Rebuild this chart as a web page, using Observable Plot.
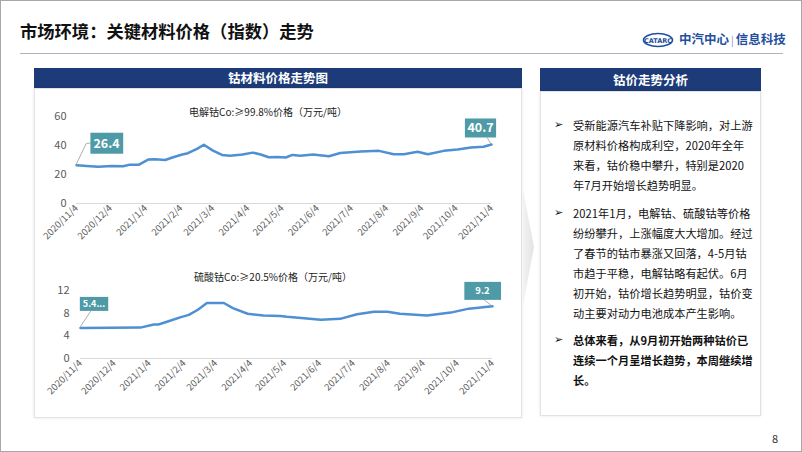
<!DOCTYPE html>
<html>
<head>
<meta charset="utf-8">
<script src="https://cdn.jsdelivr.net/npm/d3@7"></script>
<script src="https://cdn.jsdelivr.net/npm/@observablehq/plot@0.6"></script>
<style>
  body { margin: 0; background: #fff; }
  #slide { position: relative; width: 802px; height: 452px; overflow: hidden;
    font-family: "Noto Sans CJK SC", "Noto Sans", sans-serif; color: #000; background: #fff; }
  .abs { position: absolute; }
  #frame { left: 0; top: 0; width: 802px; height: 452px; box-sizing: border-box; border: 1px solid #a8a8a8; }
  #title { left: 20px; top: 20px; font-size: 17.3px; font-weight: bold; line-height: 22px; white-space: nowrap; color: #111; }
  #rule { left: 20px; top: 53px; width: 763px; height: 1px; background: #aeb3c0; }
  .hdr { background: #1c3b78; color: #fff; font-weight: bold; font-size: 12.5px; text-align: center; }
  .panel { box-sizing: border-box; border: 1px solid #e2e2e2; box-shadow: 0 0 3px rgba(0,0,0,0.10); background: #fff; }
  .ctitle { font-size: 10px; color: #222; white-space: nowrap; transform: translateX(-50%); line-height: 14px; }
  .line { left: 573px; font-size: 11.2px; line-height: 20px; white-space: nowrap; color: #111; letter-spacing: 0.05px; }
  .bul { left: 554px; font-size: 11px; line-height: 20px; font-family: "DejaVu Sans", sans-serif; color: #111; }
  .bold { font-weight: bold; }
  #logo { left: 642px; top: 32px; }
  #logotext { left: 679px; top: 31px; font-size: 12.5px; font-weight: bold; color: #1f4f9e; white-space: nowrap; line-height: 16px; }
  #page { left: 772px; top: 430px; font-size: 11px; color: #333; }
</style>
</head>
<body>
<div id="slide">
  <div id="title" class="abs">市场环境：关键材料价格（指数）走势</div>
  <svg id="logo" class="abs" width="32" height="16" viewBox="0 0 32 16">
    <ellipse cx="16" cy="8" rx="14.5" ry="6.5" fill="none" stroke="#1f4f9e" stroke-width="1.6"/>
    <text x="16" y="10.5" text-anchor="middle" font-size="6.5" font-weight="bold" fill="#1f4f9e" font-family="DejaVu Sans, sans-serif">CATARC</text>
  </svg>
  <div id="logotext" class="abs">中汽中心<span style="font-weight:normal;color:#7a8fb8;font-size:10px;margin:0 2px;">|</span>信息科技</div>
  <div id="rule" class="abs"></div>

  <div class="abs hdr" style="left:34px;top:68px;width:488px;height:20px;line-height:20px;">钴材料价格走势图</div>
  <div class="abs panel" style="left:34px;top:88px;width:488px;height:330px;"></div>

  <svg class="abs" style="left:518px;top:185px;" width="22" height="125">
    <defs><linearGradient id="chev" x1="0" x2="1"><stop offset="0" stop-color="#f3f3f3"/><stop offset="1" stop-color="#e2e2e2"/></linearGradient></defs>
    <polygon points="5,5 16,62 5,120" fill="url(#chev)"/>
  </svg>

  <div class="abs hdr" style="left:540px;top:68px;width:221px;height:23px;line-height:23px;">钴价走势分析</div>
  <div class="abs panel" style="left:540px;top:91px;width:221px;height:325px;"></div>

  <div id="chart1" class="abs" style="left:34px;top:92px;"></div>
  <div id="chart2" class="abs" style="left:34px;top:262px;"></div>
  <div class="abs ctitle" style="left:268px;top:105px;">电解钴Co:≥99.8%价格（万元/吨）</div>
  <div class="abs ctitle" style="left:273px;top:270px;">硫酸钴Co:≥20.5%价格（万元/吨）</div>

  <div id="text"></div>
  <div id="page" class="abs">8</div>
  <div id="frame" class="abs"></div>
</div>
<script>
// ---------- data ----------
const tickLabels = ["2020/11/4","2020/12/4","2021/1/4","2021/2/4","2021/3/4","2021/4/4","2021/5/4",
  "2021/6/4","2021/7/4","2021/8/4","2021/9/4","2021/10/4","2021/11/4"];

const cobaltDates = ["2020-11-04","2020-11-13","2020-11-23","2020-12-05","2020-12-15","2020-12-21","2020-12-29",
  "2021-01-06","2021-01-12","2021-01-21","2021-01-28","2021-02-05","2021-02-10","2021-02-18","2021-02-24",
  "2021-03-04","2021-03-12","2021-03-19","2021-03-30","2021-04-08","2021-04-15","2021-04-22","2021-04-30",
  "2021-05-07","2021-05-13","2021-05-20","2021-05-31","2021-06-14","2021-06-24","2021-07-12","2021-07-28",
  "2021-08-10","2021-08-19","2021-08-31","2021-09-09","2021-09-23","2021-10-05","2021-10-17","2021-10-28","2021-11-04"];
const cobaltValues = [26.4,25.9,25.4,25.9,25.7,26.8,26.8,
  30.3,30.5,30.0,31.9,33.8,34.7,37.7,40.5,
  36.5,33.5,33.0,33.8,35.1,33.8,31.9,32.1,
  31.7,33.5,33.0,33.8,32.6,34.8,35.9,36.3,
  34.0,34.0,35.7,34.0,36.3,37.3,38.6,39.1,40.7];
const cobaltTicks = [0,20,40,60];
const cobaltCallouts = ["26.4","40.7"];

const sulfateDates = ["2020-11-04","2020-12-27","2021-01-08","2021-01-12","2021-01-23","2021-02-01","2021-02-08",
  "2021-02-16","2021-02-24","2021-03-11","2021-03-19","2021-04-01","2021-04-15","2021-04-30","2021-05-06",
  "2021-06-05","2021-06-22","2021-07-07","2021-07-22","2021-08-03","2021-08-14","2021-09-07","2021-09-28",
  "2021-10-14","2021-11-04"];
const sulfateValues = [5.4,5.45,6.0,6.0,6.7,7.3,7.7,
  8.6,9.8,9.8,8.9,7.9,7.6,7.5,7.35,
  6.85,7.0,7.8,8.25,8.25,7.9,7.6,8.1,
  8.8,9.2];
const sulfateTicks = [0,4,8,12];
const sulfateCallouts = ["5.4...","9.2"];

const bullets = [
  {bold:false, lines:["受新能源汽车补贴下降影响，对上游","原材料价格构成利空，2020年全年","来看，钴价稳中攀升，特别是2020","年7月开始增长趋势明显。"]},
  {bold:false, lines:["2021年1月，电解钴、硫酸钴等价格","纷纷攀升，上涨幅度大大增加。经过","了春节的钴市暴涨又回落，4-5月钴","市趋于平稳，电解钴略有起伏。6月","初开始，钴价增长趋势明显，钴价变","动主要对动力电池成本产生影响。"]},
  {bold:true, lines:["总体来看，从9月初开始两种钴价已","连续一个月呈增长趋势，本周继续增","长。"]}
];

// ---------- text panel ----------
const paraTops = [115, 202.5, 329.5];
const textDiv = document.getElementById("text");
bullets.forEach((b, i) => {
  const bu = document.createElement("div");
  bu.className = "abs bul"; bu.style.top = paraTops[i] + "px"; bu.textContent = "➢";
  textDiv.appendChild(bu);
  b.lines.forEach((ln, j) => {
    const d = document.createElement("div");
    d.className = "abs line" + (b.bold ? " bold" : "");
    d.style.top = (paraTops[i] + j * 20) + "px";
    d.textContent = ln;
    textDiv.appendChild(d);
  });
});

// ---------- charts ----------
const FONT = '"Noto Sans CJK SC", "Noto Sans", sans-serif';
const LINE = "#4f8fd4";
const BOX = "#4e9aa6";
const parse = d3.utcParse("%Y-%m-%d");
const parseTick = d3.utcParse("%Y/%-m/%-d");
const tickDates = tickLabels.map(parseTick);
const fmt = d => { const i = tickDates.findIndex(t => +t === +d); return i >= 0 ? tickLabels[i] : ""; };

function makeChart(container, dates, values, yTicks, callouts, cfg) {
  const data = dates.map((d, i) => ({date: parse(d), value: values[i]}));
  const ends = [data[0], data[data.length - 1]];
  const marks = [
    Plot.ruleY([0], {stroke: "#d9d9d9", strokeWidth: 1}),
    Plot.axisY({ticks: yTicks, tickSize: 0, tickPadding: cfg.yPad, fontSize: 11, fill: "#595959", label: null}),
    Plot.axisX({ticks: tickDates, tickFormat: fmt, tickRotate: -45, tickSize: 0, tickPadding: 3,
      fontSize: 9.5, fill: "#595959", label: null}),
    Plot.line(data, {x: "date", y: "value", stroke: LINE, strokeWidth: 2.5, strokeLinejoin: "round"})
  ];
  cfg.boxes.forEach((b, k) => {
    marks.push(Plot.text([ends[k]], {x: "date", y: "value", text: () => callouts[k], dx: b.dx, dy: b.dy,
      fill: "#fff", fontWeight: "bold", fontSize: b.fs, textAnchor: "middle"}));
  });
  const plot = Plot.plot({
    width: 480, height: cfg.height,
    marginLeft: cfg.ml, marginRight: cfg.mr, marginTop: cfg.mt, marginBottom: cfg.mb,
    style: {background: "transparent", fontFamily: FONT, overflow: "visible"},
    x: {type: "utc", domain: [tickDates[0], tickDates[tickDates.length - 1]]},
    y: {domain: [yTicks[0], yTicks[yTicks.length - 1]]},
    marks
  });
  document.getElementById(container).appendChild(plot);

  // callout boxes & leader lines
  const sx = plot.scale("x"), sy = plot.scale("y");
  const fx = sx.apply ? v => sx.apply(v) : d3.scaleUtc(sx.domain, sx.range);
  const fy = sy.apply ? v => sy.apply(v) : d3.scaleLinear(sy.domain, sy.range);
  const svgRect = plot.getBoundingClientRect();
  const groups = plot.querySelectorAll('g[aria-label="text"]');
  const ns = "http://www.w3.org/2000/svg";
  groups.forEach((g, k) => {
    const b = cfg.boxes[k];
    const t = g.querySelector("text");
    const r = t.getBoundingClientRect();
    const w = r.width + 2 * b.padX, h = b.h;
    const cx = r.left - svgRect.left + r.width / 2;
    const cy = fy(ends[k].value) + b.dy;
    const px = fx(ends[k].date), py = fy(ends[k].value);
    const box = {left: cx - w / 2, right: cx + w / 2, top: cy - h / 2, bottom: cy + h / 2, cx, cy};
    const layer = document.createElementNS(ns, "g");
    const rect = document.createElementNS(ns, "rect");
    rect.setAttribute("x", box.left); rect.setAttribute("y", box.top);
    rect.setAttribute("width", w); rect.setAttribute("height", h);
    rect.setAttribute("fill", BOX);
    const pts = b.leader(px, py, box).map(p => p.join(",")).join(" ");
    const pl = document.createElementNS(ns, "polyline");
    pl.setAttribute("points", pts); pl.setAttribute("fill", "none");
    pl.setAttribute("stroke", "#a6a6a6"); pl.setAttribute("stroke-width", "0.9");
    layer.appendChild(pl); layer.appendChild(rect);
    g.parentNode.insertBefore(layer, g);
  });
}

makeChart("chart1", cobaltDates, cobaltValues, cobaltTicks, cobaltCallouts, {
  height: 165, ml: 42, mr: 23, mt: 24, mb: 54, yPad: 10,
  boxes: [
    {dx: 30, dy: -21.5, fs: 12.5, padX: 3, h: 21,
      leader: (px, py, b) => [[px, py], [b.left - 4, b.cy], [b.left, b.cy]]},
    {dx: -11, dy: -16, fs: 12.5, padX: 2.5, h: 19,
      leader: (px, py, b) => [[b.right - 9, b.bottom], [px, py]]}
  ]
});
makeChart("chart2", sulfateDates, sulfateValues, sulfateTicks, sulfateCallouts, {
  height: 160, ml: 46, mr: 22, mt: 28, mb: 64, yPad: 11,
  boxes: [
    {dx: 13.5, dy: -23.5, fs: 9, padX: 3, h: 14,
      leader: (px, py, b) => [[px, py], [b.left + 11, b.bottom]]},
    {dx: -10, dy: -15, fs: 9.5, padX: 11, h: 18,
      leader: (px, py, b) => [[b.right - 17, b.bottom], [px, py]]}
  ]
});
</script>
</body>
</html>
